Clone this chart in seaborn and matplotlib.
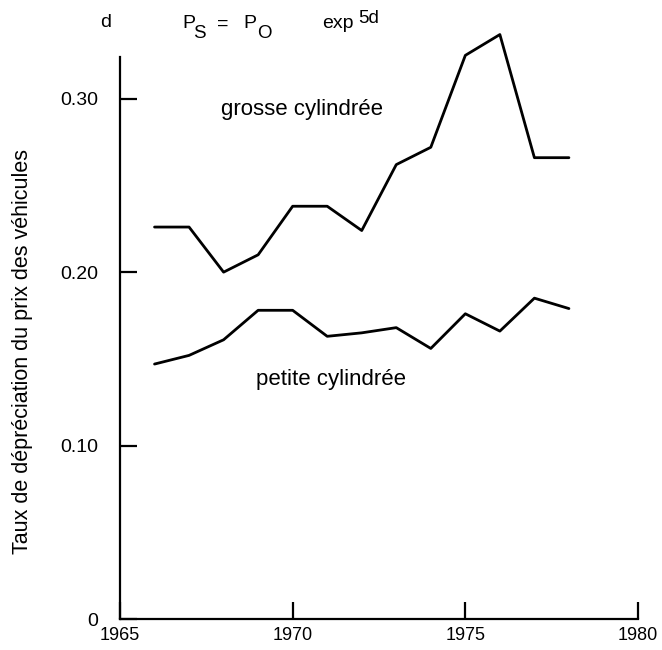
import matplotlib
matplotlib.use("Agg")
import matplotlib.pyplot as plt
import seaborn as sns
import pandas as pd

years = [1966, 1967, 1968, 1969, 1970, 1971, 1972, 1973, 1974, 1975, 1976, 1977, 1978]
grosse = [0.226, 0.226, 0.200, 0.210, 0.238, 0.238, 0.224, 0.262, 0.272, 0.325, 0.337, 0.266, 0.266]
petite = [0.147, 0.152, 0.161, 0.178, 0.178, 0.163, 0.165, 0.168, 0.156, 0.176, 0.166, 0.185, 0.179]
x_ticks = [1965, 1970, 1975, 1980]
y_ticks = [0, 0.10, 0.20, 0.30]
y_tick_labels = ["0", "0.10", "0.20", "0.30"]

sns.set_style("white", {"xtick.bottom": True, "ytick.left": True})
plt.rcParams["font.family"] = ["Liberation Sans", "DejaVu Sans"]
plt.rcParams["text.color"] = "black"
plt.rcParams["axes.labelcolor"] = "black"

df = pd.DataFrame({
    "year": years * 2,
    "d": grosse + petite,
    "serie": ["grosse"] * len(years) + ["petite"] * len(years),
})

W, H = 662, 650
fig = plt.figure(figsize=(6.62, 6.5), dpi=100)
ax = fig.add_axes([120 / W, 31 / H, (638 - 120) / W, (619 - 12) / H])

sns.lineplot(data=df, x="year", y="d", units="serie", estimator=None,
             color="black", linewidth=2.0, ax=ax)

ax.set_xlim(1965, 1980)
ax.set_ylim(0, 0.35)
ax.spines["top"].set_visible(False)
ax.spines["right"].set_visible(False)
ax.spines["left"].set_bounds(0, 0.324)
for s in ("left", "bottom"):
    ax.spines[s].set_linewidth(1.6)
    ax.spines[s].set_color("black")

ax.set_xticks(x_ticks)
ax.set_xticklabels([str(v) for v in x_ticks], fontsize=13)
ax.set_yticks(y_ticks)
ax.set_yticklabels(y_tick_labels, fontsize=14)
ax.tick_params(axis="both", direction="in", length=12, width=1.6, colors="black")
ax.tick_params(axis="x", pad=6)
ax.tick_params(axis="y", pad=16)

ax.set_xlabel("")
ax.set_ylabel("Taux de dépréciation du prix des véhicules", fontsize=15.5)
ax.yaxis.set_label_coords(-(120 - 23) / (638 - 120), (619 - 351) / (619 - 12))
ax.yaxis.label.set_va("center")

fig.text(302 / W, 1 - 109 / H, "grosse cylindrée", fontsize=16, ha="center", va="center")
fig.text(331 / W, 1 - 379 / H, "petite cylindrée", fontsize=16, ha="center", va="center")


def ptxt(x, baseline, s, size=14):
    fig.text(x / W, 1 - baseline / H, s, fontsize=size, ha="left", va="baseline")


ptxt(100, 27, "d")
ptxt(182, 28, "P")
ptxt(193, 38, "S", 13.5)
ptxt(217, 29, "=")
ptxt(243, 28, "P")
ptxt(257, 38, "O", 13.5)
ptxt(322, 28, "exp")
ptxt(358, 23, "5d", 13.5)

fig.savefig("out.png", dpi=100)
